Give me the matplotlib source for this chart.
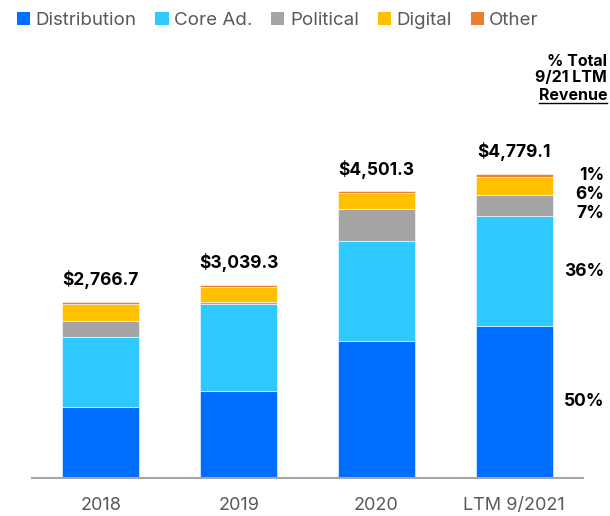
import numpy as np
import matplotlib.pyplot as plt
from matplotlib.lines import Line2D
from matplotlib.patches import Patch
from matplotlib.transforms import blended_transform_factory

plt.rcParams['font.family'] = ['Inter', 'DejaVu Sans']

periods = ['2018', '2019', '2020', 'LTM 9/2021']
segments = ['Distribution', 'Core Ad.', 'Political', 'Digital', 'Other']
colors = ['#006EFF', '#2FC9FF', '#A5A5A5', '#FFC000', '#ED7D31']

distribution = [1113, 1366, 2151, 2390]
core_ad = [1100, 1366, 1570, 1720]
political = [250, 30, 502, 335]
digital = [268, 236, 251, 287]
other = [35, 41, 27, 47]

totals = [2766.7, 3039.3, 4501.3, 4779.1]
ltm_share = ['50%', '36%', '7%', '6%', '1%']

fig = plt.figure(figsize=(6.1, 5.16), dpi=100)
ax = fig.add_axes([32 / 610, 1 - 478 / 516, 551 / 610, 382 / 516])

x = np.arange(len(periods))
stack = np.array([distribution, core_ad, political, digital, other], dtype=float)
bottom = np.zeros(len(periods))
for vals, col in zip(stack, colors):
    ax.bar(x, vals, width=0.56, bottom=bottom, color=col,
           edgecolor='white', linewidth=0.4)
    bottom += vals

for xi, tot in zip(x, totals):
    ax.annotate(f'${tot:,.1f}', (xi, tot), xytext=(0, 9), textcoords='offset points',
                ha='center', va='bottom', fontsize=12.5, fontweight='bold', color='black')

ax.set_xlim(-0.5, 3.5)
ax.set_ylim(0, 6000)
ax.set_xticks(x)
ax.set_xticklabels(periods, fontsize=13, color='#595959')
ax.tick_params(axis='x', length=0, pad=14)
ax.set_yticks([])
for side in ['top', 'left', 'right']:
    ax.spines[side].set_visible(False)
ax.spines['bottom'].set_color('#A6A6A6')
ax.spines['bottom'].set_linewidth(1.5)

# share labels for the last bar, spread apart so the thin slices stay readable
last = stack[:, -1]
mids = np.cumsum(last) - last / 2
ypos = mids.copy()
ypos[-1] = min(mids[-1], last.sum())
for i in range(len(ypos) - 2, -1, -1):
    ypos[i] = min(mids[i], ypos[i + 1] - 300)
trans = blended_transform_factory(fig.transFigure, ax.transData)
for lab, yv in zip(ltm_share, ypos):
    ax.text(1 - 6 / 610, yv, lab, transform=trans,
            ha='right', va='center', fontsize=12.5, fontweight='bold')

handles = [Patch(facecolor=c, edgecolor='none') for c in colors]
fig.legend(handles, segments, loc='upper left', bbox_to_anchor=(0.0, 1.01), ncol=5,
           frameon=False, fontsize=13.5, handlelength=0.7, handleheight=0.7,
           handletextpad=0.3, columnspacing=1.0, labelcolor='#595959')

hdr_kw = dict(ha='right', va='center', fontsize=11.5, fontweight='bold', color='black')
fig.text(1 - 3 / 610, 1 - 62 / 516, '% Total', **hdr_kw)
fig.text(1 - 3 / 610, 1 - 78 / 516, '9/21 LTM', **hdr_kw)
rev = fig.text(1 - 3 / 610, 1 - 95 / 516, 'Revenue', **hdr_kw)
fig.canvas.draw()
bb = rev.get_window_extent().transformed(fig.transFigure.inverted())
fig.add_artist(Line2D([bb.x0, bb.x1], [bb.y0 - 0.001, bb.y0 - 0.001],
                      transform=fig.transFigure, color='black', linewidth=1.0))

fig.savefig('out.png', dpi=100)
